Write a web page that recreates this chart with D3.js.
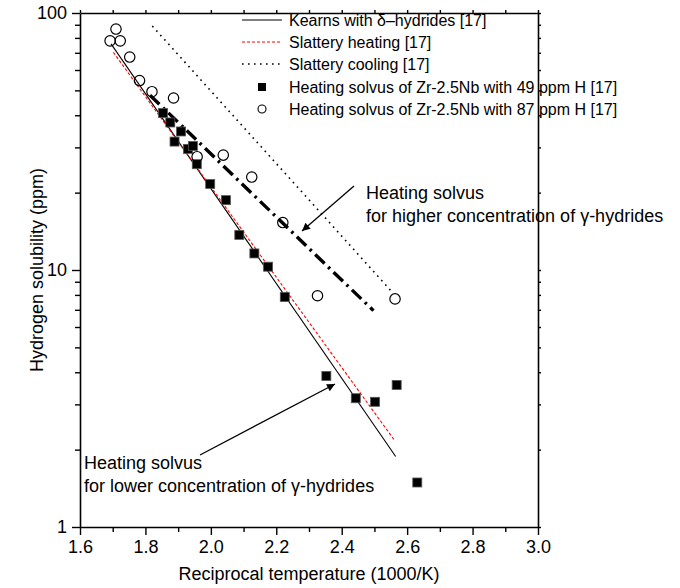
<!DOCTYPE html>
<html>
<head>
<meta charset="utf-8">
<script src="https://cdn.jsdelivr.net/npm/d3@7"></script>
<style>
  html, body { margin: 0; padding: 0; background: #fff; }
  svg { display: block; font-family: "Liberation Sans", Arial, sans-serif; }
</style>
</head>
<body>
<svg id="chart" width="680" height="588"></svg>
<script>
// ---------- data ----------
const xTickValues = [1.6, 1.8, 2.0, 2.2, 2.4, 2.6, 2.8, 3.0];
const xTickLabels = ["1.6", "1.8", "2.0", "2.2", "2.4", "2.6", "2.8", "3.0"];
const xMinorValues = [1.7, 1.9, 2.1, 2.3, 2.5, 2.7, 2.9];
const yTickValues = [1, 10, 100];
const yTickLabels = ["1", "10", "100"];
const yMinorValues = [2, 3, 4, 5, 6, 7, 8, 9, 20, 30, 40, 50, 60, 70, 80, 90];

// Heating solvus of Zr-2.5Nb with 49 ppm H
const h49X = [1.854, 1.876, 1.909, 1.889, 1.930, 1.945, 1.957, 1.998, 2.046, 2.087, 2.133, 2.175, 2.226, 2.353, 2.443, 2.502, 2.568, 2.631];
const h49Y = [40.8, 37.5, 34.6, 31.6, 29.6, 30.4, 25.8, 21.6, 18.7, 13.7, 11.6, 10.3, 7.85, 3.87, 3.17, 3.07, 3.57, 1.49];

// Heating solvus of Zr-2.5Nb with 87 ppm H
const h87X = [1.692, 1.710, 1.723, 1.752, 1.782, 1.820, 1.886, 1.958, 2.038, 2.125, 2.220, 2.326, 2.563];
const h87Y = [77.9, 86.6, 77.9, 67.4, 54.6, 49.4, 46.7, 27.6, 28.0, 23.0, 15.3, 7.94, 7.72];

// Lines
const kearnsX = [1.695, 2.565];
const kearnsY = [75.8, 1.88];
const slatteryHeatX = [1.702, 2.563];
const slatteryHeatY = [70.3, 2.16];
const slatteryCoolX = [1.821, 2.554];
const slatteryCoolY = [89, 8.21];
const gammaHighX = [1.814, 2.497];
const gammaHighY = [47.9, 6.95];

// ---------- layout ----------
const svg = d3.select("#chart");
const mL = 80, mR = 538, mT = 13, mB = 527;
const x = d3.scaleLinear().domain([1.6, 3.0]).range([mL, mR]);
const y = d3.scaleLog().domain([1, 100]).range([mB, mT]);

const zip = (a, b) => a.map((v, i) => [v, b[i]]);
const line = d3.line().x(d => x(d[0])).y(d => y(d[1]));

// ---------- axes ----------
function styleAxis(g) {
  g.selectAll("path.domain").attr("stroke", "#000").attr("stroke-width", 1.6);
  g.selectAll(".tick line").attr("stroke", "#000").attr("stroke-width", 1.4);
  g.selectAll("text").attr("fill", "#000").style("font-size", "18px")
    .style("font-family", "'Liberation Sans', Arial, sans-serif");
}

const xAxis = d3.axisBottom(x).tickValues(xTickValues)
  .tickFormat((d, i) => xTickLabels[i]).tickSizeInner(8).tickSizeOuter(0).tickPadding(5);
const gx = svg.append("g").attr("transform", `translate(0,${mB})`).call(xAxis);
styleAxis(gx);
svg.append("g").attr("transform", `translate(0,${mB})`)
  .call(d3.axisBottom(x).tickValues(xMinorValues).tickSize(5).tickFormat(""))
  .call(g => g.select(".domain").remove()).call(styleAxis);

const yAxis = d3.axisLeft(y).tickValues(yTickValues)
  .tickFormat((d, i) => yTickLabels[i]).tickSizeInner(8).tickSizeOuter(0).tickPadding(5);
const gy = svg.append("g").attr("transform", `translate(${mL},0)`).call(yAxis);
styleAxis(gy);
svg.append("g").attr("transform", `translate(${mL},0)`)
  .call(d3.axisLeft(y).tickValues(yMinorValues).tickSize(5).tickFormat(""))
  .call(g => g.select(".domain").remove()).call(styleAxis);

// top & right (no labels, small ticks)
svg.append("g").attr("transform", `translate(0,${mT})`)
  .call(d3.axisTop(x).tickValues(xTickValues.concat(xMinorValues)).tickSize(3).tickSizeOuter(0).tickFormat(""))
  .call(styleAxis);
svg.append("g").attr("transform", `translate(${mR},0)`)
  .call(d3.axisRight(y).tickValues(yTickValues.concat(yMinorValues)).tickSize(3).tickSizeOuter(0).tickFormat(""))
  .call(styleAxis);

// axis titles
svg.append("text").attr("x", (mL + mR) / 2).attr("y", 580)
  .attr("text-anchor", "middle").style("font-size", "18px")
  .text("Reciprocal temperature (1000/K)");
svg.append("text").attr("transform", `translate(43,${(mT + mB) / 2}) rotate(-90)`)
  .attr("text-anchor", "middle").style("font-size", "18px")
  .text("Hydrogen solubility (ppm)");

// ---------- lines ----------
const plot = svg.append("g");
plot.append("path").datum(zip(kearnsX, kearnsY)).attr("d", line)
  .attr("fill", "none").attr("stroke", "#000").attr("stroke-width", 1.1);
plot.append("path").datum(zip(slatteryHeatX, slatteryHeatY)).attr("d", line)
  .attr("fill", "none").attr("stroke", "#f00").attr("stroke-width", 1.1).attr("stroke-dasharray", "3,2");
plot.append("path").datum(zip(slatteryCoolX, slatteryCoolY)).attr("d", line)
  .attr("fill", "none").attr("stroke", "#000").attr("stroke-width", 1.6).attr("stroke-dasharray", "1.6,4.4");
plot.append("path").datum(zip(gammaHighX, gammaHighY)).attr("d", line)
  .attr("fill", "none").attr("stroke", "#000").attr("stroke-width", 3.4).attr("stroke-dasharray", "13,5,2.5,5");

// ---------- markers ----------
const sq = 9;
plot.selectAll("rect.h49").data(zip(h49X, h49Y)).join("rect")
  .attr("x", d => x(d[0]) - sq / 2).attr("y", d => y(d[1]) - sq / 2)
  .attr("width", sq).attr("height", sq).attr("fill", "#000")
  .attr("stroke", "#555").attr("stroke-width", 0.8);
plot.selectAll("circle.h87").data(zip(h87X, h87Y)).join("circle")
  .attr("cx", d => x(d[0])).attr("cy", d => y(d[1])).attr("r", 5.2)
  .attr("fill", "none").attr("stroke", "#000").attr("stroke-width", 1.2);

// ---------- legend ----------
const legend = svg.append("g");
const lx0 = 242, lx1 = 282, ltx = 289, rows = [20, 42, 64, 87, 109];
const legendLabels = [
  "Kearns with \u03B4\u2013hydrides [17]",
  "Slattery heating [17]",
  "Slattery cooling [17]",
  "Heating solvus of Zr-2.5Nb with 49 ppm H [17]",
  "Heating solvus of Zr-2.5Nb with 87 ppm H [17]"
];
legend.append("line").attr("x1", lx0).attr("x2", lx1).attr("y1", rows[0]).attr("y2", rows[0])
  .attr("stroke", "#000").attr("stroke-width", 1.1);
legend.append("line").attr("x1", lx0).attr("x2", lx1).attr("y1", rows[1]).attr("y2", rows[1])
  .attr("stroke", "#f00").attr("stroke-width", 1.1).attr("stroke-dasharray", "3,2");
legend.append("line").attr("x1", lx0).attr("x2", lx1).attr("y1", rows[2]).attr("y2", rows[2])
  .attr("stroke", "#000").attr("stroke-width", 1.6).attr("stroke-dasharray", "1.6,4.4");
legend.append("rect").attr("x", 262 - 4).attr("y", rows[3] - 4).attr("width", 8).attr("height", 8).attr("fill", "#000");
legend.append("circle").attr("cx", 262).attr("cy", rows[4]).attr("r", 4)
  .attr("fill", "none").attr("stroke", "#000").attr("stroke-width", 1.1);
legend.selectAll("text").data(legendLabels).join("text")
  .attr("x", ltx).attr("y", (d, i) => rows[i] + 6).style("font-size", "16px").text(d => d);

// ---------- annotations ----------
const defs = svg.append("defs");
defs.append("marker").attr("id", "arrow").attr("viewBox", "0 0 10 10")
  .attr("refX", 10).attr("refY", 5).attr("markerWidth", 11).attr("markerHeight", 8)
  .attr("markerUnits", "userSpaceOnUse").attr("orient", "auto")
  .append("path").attr("d", "M0,0 L10,5 L0,10 Z").attr("fill", "#000");

svg.append("line").attr("x1", 354).attr("y1", 186).attr("x2", 302).attr("y2", 231)
  .attr("stroke", "#000").attr("stroke-width", 1.3).attr("marker-end", "url(#arrow)");
svg.append("line").attr("x1", 200).attr("y1", 455).attr("x2", 335).attr("y2", 384)
  .attr("stroke", "#000").attr("stroke-width", 1.3).attr("marker-end", "url(#arrow)");

const ann = svg.append("g").style("font-size", "18px");
ann.append("text").attr("x", 366).attr("y", 199).text("Heating solvus");
ann.append("text").attr("x", 366).attr("y", 222).text("for higher concentration of \u03B3-hydrides");
ann.append("text").attr("x", 84).attr("y", 469).text("Heating solvus");
ann.append("text").attr("x", 84).attr("y", 492).text("for lower concentration of \u03B3-hydrides");
</script>
</body>
</html>
